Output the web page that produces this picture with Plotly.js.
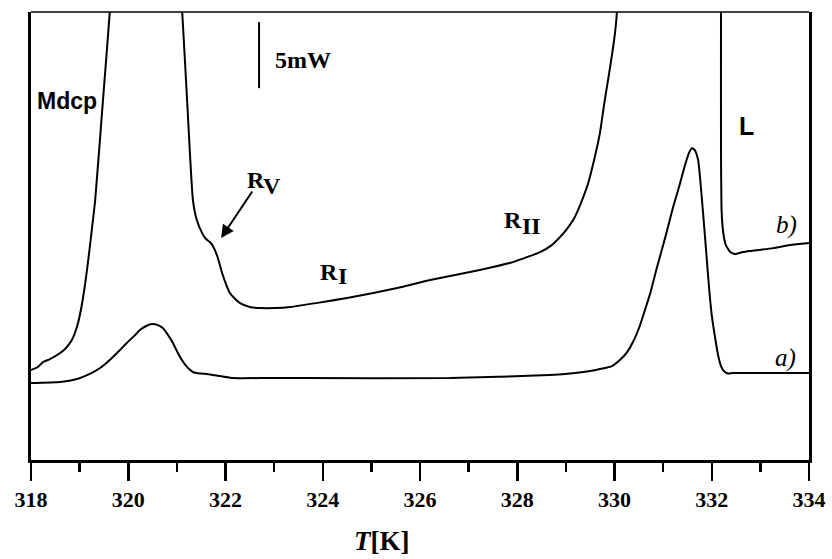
<!DOCTYPE html>
<html>
<head>
<meta charset="utf-8">
<script src="https://cdn.plot.ly/plotly-3.0.1.min.js"></script>
<style>html,body{margin:0;padding:0;background:#fff;}#chart{width:832px;height:559px;}</style>
</head>
<body>
<div id="chart"></div>
<script>
// Temperature (K) and heat flow (mW, arbitrary offset) for curve a)
const tempA = [318.00, 318.60, 318.95, 319.21, 319.42, 319.62, 319.83, 319.97, 320.14, 320.24, 320.37, 320.49, 320.61, 320.71, 320.82, 320.92, 321.02, 321.13, 321.23, 321.33, 321.48, 321.62, 321.89, 322.15, 322.85, 323.53, 326.62, 328.67, 329.19, 329.50, 329.70, 329.95, 330.11, 330.26, 330.38, 330.52, 330.62, 330.73, 330.87, 331.04, 331.20, 331.35, 331.45, 331.53, 331.59, 331.65, 331.72, 331.76, 331.82, 331.88, 331.94, 332.00, 332.07, 332.13, 332.19, 332.25, 332.33, 332.44, 334.00];
const flowA = [5.84, 5.92, 6.15, 6.53, 6.98, 7.59, 8.35, 8.88, 9.48, 9.86, 10.17, 10.32, 10.24, 10.02, 9.48, 8.88, 8.12, 7.44, 6.98, 6.68, 6.56, 6.53, 6.37, 6.22, 6.22, 6.22, 6.22, 6.45, 6.60, 6.75, 6.90, 7.13, 7.59, 8.19, 8.95, 10.17, 11.31, 12.59, 14.57, 16.84, 19.12, 21.02, 22.38, 23.29, 23.67, 23.52, 22.76, 21.40, 18.82, 16.08, 13.28, 11.00, 9.26, 7.97, 7.13, 6.75, 6.56, 6.60, 6.60];

// Curve b) (goes off scale above the top of the frame)
const tempB = [318.00, 318.14, 318.25, 318.39, 318.60, 318.72, 318.84, 318.95, 319.03, 319.11, 319.19, 319.25, 319.32, 319.48, 319.62, 319.69, 321.02, 321.11, 321.21, 321.33, 321.41, 321.52, 321.60, 321.68, 321.74, 321.83, 321.93, 322.01, 322.09, 322.20, 322.30, 322.50, 322.71, 323.02, 323.33, 324.50, 325.53, 326.21, 327.23, 327.91, 328.47, 328.71, 328.88, 329.02, 329.15, 329.25, 329.35, 329.46, 329.58, 329.70, 329.80, 329.91, 330.01, 330.05, 330.09, 332.19, 332.19, 332.19, 332.20, 332.22, 332.25, 332.29, 332.38, 332.48, 332.64, 332.79, 333.26, 333.61, 334.00];
const flowB = [6.83, 7.06, 7.44, 7.66, 8.12, 8.50, 9.10, 10.17, 11.46, 13.28, 15.55, 17.45, 19.73, 27.31, 33.99, 38.70, 38.70, 33.99, 27.31, 19.73, 18.21, 17.22, 16.77, 16.54, 16.24, 15.48, 14.19, 13.35, 12.67, 12.22, 11.91, 11.61, 11.53, 11.53, 11.61, 12.29, 13.05, 13.66, 14.42, 15.02, 15.78, 16.31, 16.92, 17.53, 18.21, 18.97, 19.88, 21.02, 22.76, 24.81, 27.31, 29.82, 32.40, 33.99, 38.70, 38.70, 33.99, 23.52, 19.20, 17.83, 16.92, 16.31, 15.78, 15.63, 15.78, 15.86, 16.08, 16.31, 16.46];

const xTickVals = [318, 320, 322, 324, 326, 328, 330, 332, 334];
const xTickText = ['318', '320', '322', '324', '326', '328', '330', '332', '334'];

const lineStyle = {color: '#000', width: 2, shape: 'spline', smoothing: 0.5};

const traces = [
  {x: tempA, y: flowA, mode: 'lines', line: lineStyle, hoverinfo: 'skip', showlegend: false},
  {x: tempB, y: flowB, mode: 'lines', line: lineStyle, hoverinfo: 'skip', showlegend: false}
];

const serifB = {family: 'Liberation Serif, Times New Roman, serif', size: 24, color: '#000', weight: 'bold'};
const sansB = {family: 'Liberation Sans, Arial, sans-serif', size: 24, color: '#000', weight: 'bold'};
const serifI = {family: 'Liberation Serif, Times New Roman, serif', size: 25, color: '#000', style: 'italic'};

function txt(x, y, text, font, xanchor) {
  return {x: x, y: y, xref: 'x', yref: 'y', text: text, showarrow: false, font: font, xanchor: xanchor || 'center', yanchor: 'middle'};
}

const annotations = [
  txt(318.74, 27.24, 'Mdcp', Object.assign({}, sansB, {size: 23})),
  txt(332.71, 25.34, 'L', Object.assign({}, sansB, {size: 25})),
  txt(322.98, 30.35, '5mW', serifB, 'left'),
  txt(322.62, 21.24, 'R', serifB),
  txt(322.95, 20.83, 'V', serifB),
  txt(324.12, 14.30, 'R', serifB),
  txt(324.41, 14.00, 'I', serifB),
  txt(327.92, 18.21, 'R', serifB),
  txt(328.29, 17.79, 'II', serifB),
  txt(333.53, 17.83, '<i>b</i>)', serifI),
  txt(333.51, 7.74, '<i>a</i>)', serifI),
  {x: 321.91, y: 16.84, xref: 'x', yref: 'y', ax: 322.57, ay: 20.49, axref: 'x', ayref: 'y',
   text: '', showarrow: true, arrowhead: 2, arrowsize: 1.3, arrowwidth: 2, arrowcolor: '#000'},
  {x: 0.451, y: -0.181, xref: 'paper', yref: 'paper', text: '<b><i>T</i>[K]</b>', showarrow: false,
   font: {family: 'Liberation Serif, Times New Roman, serif', size: 27, color: '#000'}, xanchor: 'center', yanchor: 'middle'}
];

const layout = {
  width: 832, height: 559,
  margin: {l: 31, r: 23, t: 12, b: 99},
  paper_bgcolor: '#fff', plot_bgcolor: '#fff',
  xaxis: {
    range: [318, 334], tickmode: 'array', tickvals: xTickVals, ticktext: xTickText,
    ticks: 'outside', ticklen: 18, tickwidth: 2.5, tickcolor: '#000',
    minor: {dtick: 1, tick0: 318, ticks: 'outside', ticklen: 9, tickwidth: 2.5, tickcolor: '#000', showgrid: false},
    showline: true, linewidth: 3, linecolor: '#000', mirror: false,
    showgrid: false, zeroline: false,
    tickfont: {family: 'Liberation Serif, Times New Roman, serif', size: 22, color: '#000', weight: 'bold'}
  },
  yaxis: {
    range: [0, 34], showticklabels: false, ticks: '', showgrid: false, zeroline: false,
    showline: true, linewidth: 3, linecolor: '#000', mirror: true
  },
  shapes: [
    {type: 'line', xref: 'paper', yref: 'paper', x0: 0, x1: 1, y0: 1, y1: 1, line: {color: '#000', width: 1.5}},
    {type: 'line', xref: 'x', yref: 'y', x0: 322.69, x1: 322.69, y0: 28.22, y1: 33.23, line: {color: '#000', width: 2}}
  ],
  annotations: annotations
};

Plotly.newPlot('chart', traces, layout, {staticPlot: true, displayModeBar: false});
</script>
</body>
</html>
